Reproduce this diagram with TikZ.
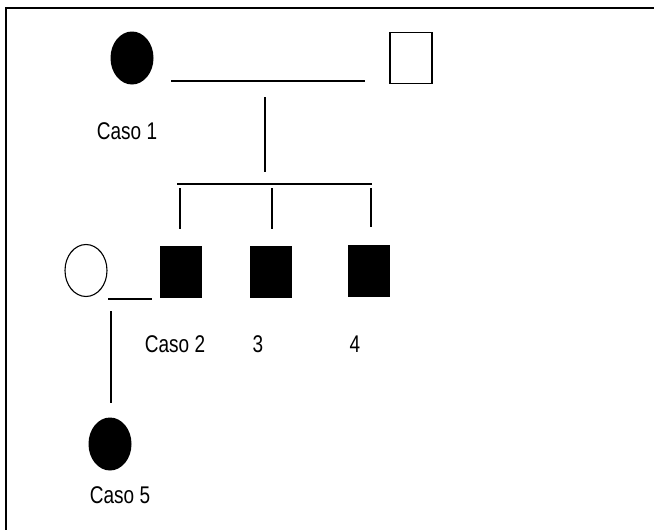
\documentclass[tikz,border=0pt]{standalone}
\usepackage{fontspec}
\setmainfont{Liberation Sans}
\usetikzlibrary{shapes.geometric}
\begin{document}
\begin{tikzpicture}[x=1pt,y=-1pt,
  ln/.style={line width=1.1pt, black},
  frameline/.style={line width=1.8pt, black},
  femfill/.style={ellipse, fill=black, minimum width=43pt, minimum height=53pt, inner sep=0pt},
  femopen/.style={ellipse, draw=black, line width=1.1pt, minimum width=42pt, minimum height=52pt, inner sep=0pt},
  malefill/.style={rectangle, fill=black, minimum width=42pt, minimum height=52pt, inner sep=0pt},
  maleopen/.style={rectangle, draw=black, line width=1.1pt, minimum width=42pt, minimum height=51pt, inner sep=0pt},
  lbl/.style={font=\fontsize{19}{22}\selectfont, inner sep=0pt, anchor=base, yscale=1.27, transform shape}
]
\useasboundingbox (0,0) rectangle (654,530);
% frame
\coordinate (fTR) at (654,8);
\coordinate (fTL) at (6,8);
\coordinate (fBL) at (6,530);
\draw[frameline] (fTR) -- (fTL) -- (fBL);

% generation I
\node[femfill] (c1) at (132,58) {};
\node[maleopen] (m1) at (411,58) {};
\node[lbl] (t1) at (127,139) {Caso 1};
\coordinate (mA) at (171,81);
\coordinate (mB) at (365,81);
\draw[ln] (mA) -- (mB);
\coordinate (dA) at (265,97);
\coordinate (dB) at (265,172);
\draw[ln] (dA) -- (dB);
\coordinate (sA) at (177,184);
\coordinate (sB) at (372,184);
\draw[ln] (sA) -- (sB);

% generation II
\node[malefill] (c2) at (181,272) {};
\node[malefill] (c3) at (271,272) {};
\node[malefill] (c4) at (369,270.5) {};
\node[femopen] (w) at (86,270.5) {};
\coordinate (k2) at (180,188);
\coordinate (k2b) at (180,229);
\coordinate (k3) at (272,188);
\coordinate (k3b) at (272,229);
\coordinate (k4) at (371,188);
\coordinate (k4b) at (371,227);
\draw[ln] (k2) -- (k2b);
\draw[ln] (k3) -- (k3b);
\draw[ln] (k4) -- (k4b);
\node[lbl] (t2) at (175,352) {Caso 2};
\node[lbl] (t3) at (258,352) {3};
\node[lbl] (t4) at (355,352) {4};
\coordinate (wA) at (108,299);
\coordinate (wB) at (152,299);
\draw[ln] (wA) -- (wB);
\coordinate (vA) at (111,311);
\coordinate (vB) at (111,403);
\draw[ln] (vA) -- (vB);

% generation III
\node[femfill] (c5) at (110,444) {};
\node[lbl] (t5) at (120,503) {Caso 5};
\end{tikzpicture}
\end{document}
